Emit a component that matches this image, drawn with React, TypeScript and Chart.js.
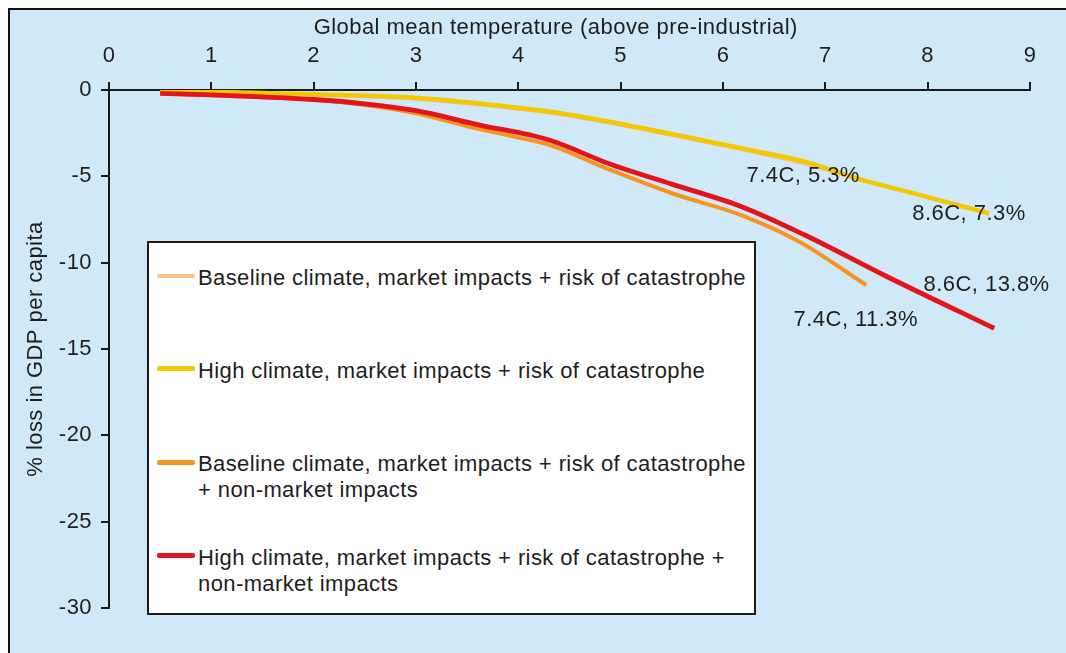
import React, { useEffect, useRef } from "react";
import { Chart, registerables } from "chart.js";

Chart.register(...registerables);

// ---------- data ----------
const xTickLabels = ["0", "1", "2", "3", "4", "5", "6", "7", "8", "9"];
const yTickLabels = ["0", "-5", "-10", "-15", "-20", "-25", "-30"];

const seriesLabels = [
  ["Baseline climate, market impacts + risk of catastrophe"],
  ["High climate, market impacts + risk of catastrophe"],
  ["Baseline climate, market impacts + risk of catastrophe", "+ non-market impacts"],
  ["High climate, market impacts + risk of catastrophe +", "non-market impacts"],
];
const seriesColors = ["#f6bf85", "#f4c800", "#f7941d", "#e3141b"];

const baselineMarketTemp = [0.5, 1.0, 1.5, 2.0, 2.5, 3.0, 3.6, 4.3, 4.9, 5.5, 6.2, 6.8, 7.4];
const baselineMarketLoss = [-0.08, -0.13, -0.2, -0.28, -0.36, -0.5, -0.82, -1.3, -1.9, -2.6, -3.45, -4.25, -5.3];

const highMarketTemp = [0.5, 1.0, 1.5, 2.0, 2.5, 3.0, 3.6, 4.3, 4.9, 5.5, 6.2, 6.8, 7.3, 8.0, 8.6];
const highMarketLoss = [-0.05, -0.1, -0.18, -0.25, -0.32, -0.45, -0.77, -1.25, -1.85, -2.55, -3.4, -4.15, -5.1, -6.2, -7.15];

const baselineAllTemp = [0.5, 1.0, 1.5, 2.0, 2.5, 3.0, 3.5, 4.0, 4.3, 4.9, 5.5, 6.2, 6.75, 7.4];
const baselineAllLoss = [-0.2, -0.3, -0.42, -0.57, -0.87, -1.35, -2.1, -2.75, -3.18, -4.63, -5.98, -7.3, -8.8, -11.3];

const highAllTemp = [0.5, 1.0, 1.5, 2.0, 2.5, 3.0, 3.6, 4.3, 4.9, 5.5, 6.2, 6.8, 7.6, 8.65];
const highAllLoss = [-0.2, -0.28, -0.4, -0.55, -0.8, -1.2, -2.0, -2.9, -4.3, -5.45, -6.8, -8.4, -10.8, -13.8];

const annotationTexts = ["7.4C, 5.3%", "8.6C, 7.3%", "8.6C, 13.8%", "7.4C, 11.3%"];
const annotationX = [6.23, 7.85, 7.96, 6.69];
const annotationY = [-5.31, -7.53, -11.62, -13.67];

const xTitle = "Global mean temperature (above pre-industrial)";
const yTitle = "% loss in GDP per capita";

// ---------- helpers ----------
const FONT = '"Liberation Sans", Arial, Helvetica, sans-serif';
const TEXT = "#1e1e1e";
const AXIS = "#1a1a1a";
const SPACING = "0.45px";

function toPoints(xs: number[], ys: number[]) {
  return xs.map((x, i) => ({ x, y: ys[i] }));
}

const textPlugin = {
  id: "customText",
  beforeDraw(chart: any) {
    // slightly wider text, as in the reference
    (chart.ctx as any).letterSpacing = SPACING;
  },
  afterDraw(chart: any) {
    const { ctx, scales } = chart;
    const xs = scales.x;
    const ys = scales.y;
    ctx.save();
    (ctx as any).letterSpacing = SPACING;
    ctx.fillStyle = TEXT;
    ctx.font = `22px ${FONT}`;
    ctx.textAlign = "left";
    ctx.textBaseline = "alphabetic";
    // axis title on top, starting at x = 2
    ctx.fillText(xTitle, xs.getPixelForValue(2), chart.chartArea.top - 56.5);
    // end-point annotations
    annotationTexts.forEach((t, i) => {
      ctx.fillText(t, xs.getPixelForValue(annotationX[i]), ys.getPixelForValue(annotationY[i]));
    });
    ctx.restore();
  },
};

export default function App() {
  const ref = useRef<HTMLCanvasElement>(null);

  useEffect(() => {
    const canvas = ref.current;
    if (!canvas) return;
    Chart.defaults.font.family = FONT;

    const seriesData = [
      toPoints(baselineMarketTemp, baselineMarketLoss),
      toPoints(highMarketTemp, highMarketLoss),
      toPoints(baselineAllTemp, baselineAllLoss),
      toPoints(highAllTemp, highAllLoss),
    ];
    const widths = [4, 4.5, 4, 4.8];
    const orders = [3, 2, 1, 0];

    const chart = new Chart(canvas, {
      type: "line",
      data: {
        datasets: seriesData.map((d, i) => ({
          label: seriesLabels[i].join(" "),
          data: d,
          borderColor: seriesColors[i],
          backgroundColor: seriesColors[i],
          borderWidth: widths[i],
          pointRadius: 0,
          fill: false,
          cubicInterpolationMode: "monotone" as const,
          order: orders[i],
        })),
      },
      options: {
        animation: false,
        responsive: false,
        devicePixelRatio: 1,
        layout: { padding: { left: 0, top: 0, right: 36, bottom: 45 } },
        plugins: {
          legend: { display: false },
          tooltip: { enabled: false },
        },
        events: [],
        scales: {
          x: {
            type: "linear",
            position: "top",
            min: 0,
            max: 9,
            afterFit: (s: any) => {
              s.height = 82;
              s.paddingLeft = 0;
              s.paddingRight = 0;
            },
            afterBuildTicks: (s: any) => {
              s.ticks = xTickLabels.map((v) => ({ value: Number(v) }));
            },
            ticks: {
              font: { size: 22 },
              color: TEXT,
              padding: 13,
              maxRotation: 0,
              autoSkip: false,
              callback: (_v: any, i: number) => xTickLabels[i],
            },
            grid: {
              drawOnChartArea: false,
              drawTicks: true,
              tickLength: 8,
              color: AXIS,
              tickColor: AXIS,
              lineWidth: 2,
            },
            border: { display: true, color: AXIS, width: 2 },
          },
          y: {
            type: "linear",
            position: "left",
            min: -30,
            max: 0,
            afterFit: (s: any) => {
              s.width = 101;
              s.paddingTop = 0;
              s.paddingBottom = 0;
            },
            afterBuildTicks: (s: any) => {
              s.ticks = yTickLabels.map((v) => ({ value: Number(v) }));
            },
            ticks: {
              font: { size: 22 },
              color: TEXT,
              padding: 9,
              autoSkip: false,
              callback: (v: any) => {
                const idx = yTickLabels.findIndex((t) => Number(t) === Number(v));
                return idx >= 0 ? yTickLabels[idx] : "";
              },
            },
            grid: {
              drawOnChartArea: false,
              drawTicks: true,
              tickLength: 8,
              color: AXIS,
              tickColor: AXIS,
              lineWidth: 2,
            },
            border: { display: true, color: AXIS, width: 2 },
            title: {
              display: true,
              text: yTitle,
              color: TEXT,
              font: { size: 22 },
              padding: { top: 15, bottom: 0 },
            },
          },
        },
      },
      plugins: [textPlugin],
    } as any);

    return () => chart.destroy();
  }, []);

  return (
    <div
      style={{
        position: "fixed",
        left: 8,
        top: 8,
        width: 1058,
        height: 645,
        background: "#cfe9f8",
        overflow: "hidden",
      }}
    >
      <canvas
        ref={ref}
        width={1058}
        height={645}
        style={{ position: "absolute", left: 0, top: 0, width: 1058, height: 645, display: "block" }}
      />
      <div
        style={{
          position: "absolute",
          left: 0,
          top: 0,
          right: 0,
          bottom: 0,
          borderTop: "2px solid #111",
          borderLeft: "2px solid #111",
          pointerEvents: "none",
        }}
      />
      <div
        style={{
          position: "absolute",
          left: 139,
          top: 233,
          width: 609,
          height: 374,
          boxSizing: "border-box",
          border: "2px solid #1a1a1a",
          background: "#ffffff",
        }}
      />
      {seriesLabels.map((lines, i) => (
        <React.Fragment key={i}>
          <div
            style={{
              position: "absolute",
              left: 149,
              top: 267.5 + i * 93.3 - (i === 0 ? 2 : 2.5),
              width: 38,
              height: i === 0 ? 4 : 5,
              background: seriesColors[i],
              borderRadius: 2,
            }}
          />
          <div
            style={{
              position: "absolute",
              left: 190,
              top: 256.8 + i * 93.3,
              font: `22px ${FONT}`,
              letterSpacing: "0.4px",
              lineHeight: "26px",
              color: TEXT,
              whiteSpace: "nowrap",
            }}
          >
            {lines.map((l, j) => (
              <div key={j}>{l}</div>
            ))}
          </div>
        </React.Fragment>
      ))}
    </div>
  );
}
